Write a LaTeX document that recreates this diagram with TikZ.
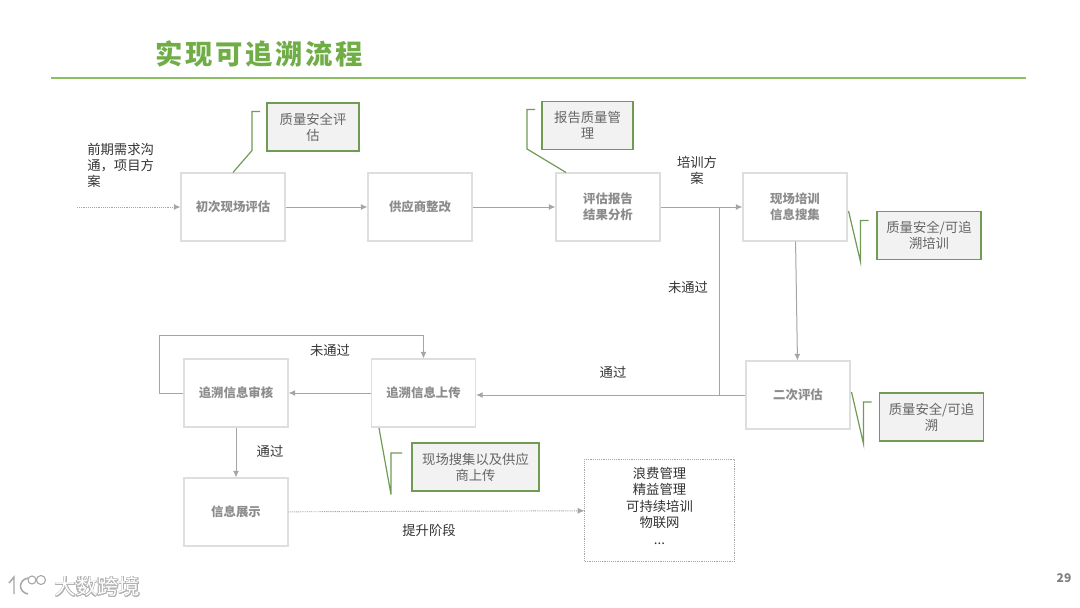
\documentclass[tikz,border=0pt]{standalone}
\usepackage{fontspec}
\usepackage{xcolor}
\usepackage{tikz}
\usepackage[copies]{contour}
\usetikzlibrary{arrows.meta,positioning}
\setmainfont{Noto Sans CJK SC}
\newfontfamily\titlefont[LetterSpace=10]{Noto Sans CJK SC}
\definecolor{titlegreen}{RGB}{112,173,71}
\definecolor{rulegreen}{RGB}{140,191,96}
\definecolor{notegreen}{RGB}{112,155,85}
\definecolor{flowgrey}{RGB}{165,165,165}
\contourlength{0.5pt}
\contournumber{16}

\begin{document}
\begin{tikzpicture}[
    x=0.75pt, y=-0.75pt,
    flowbox/.style={rectangle, draw=black!13, line width=0.8pt, minimum width=78pt, minimum height=51pt, inner sep=0pt, align=center, text=black!45, font=\fontsize{9.3}{12}\selectfont\bfseries},
    note/.style={rectangle, draw=notegreen, fill=black!5, line width=1.1pt, minimum height=36pt, inner sep=0pt, align=center, text=black!60, font=\fontsize{10}{12}\selectfont},
    label/.style={align=center, inner sep=0pt, text=black!80, font=\fontsize{10}{12}\selectfont},
    arrow/.style={-{Latex[length=5pt,width=4.5pt]}, flowgrey, line width=0.75pt},
    dotarrow/.style={-{Latex[length=5pt,width=4.5pt]}, flowgrey, dash pattern=on 0.7pt off 0.7pt, line width=0.7pt},
    leader/.style={notegreen, line width=0.9pt}
]
    \useasboundingbox (0,0) rectangle (1080,607);

    % title
    \node[inner sep=0pt, text=titlegreen, font=\fontsize{20.5}{24}\selectfont\titlefont\bfseries] (title) at (259,54) {实现可追溯流程};
    \draw[rulegreen, line width=1.5pt] (51,78) -- (1026,78);

    % flow boxes
    \node[flowbox] (initial) at (233,207) {初次现场评估};
    \node[flowbox] (rectify) at (420,207) {供应商整改};
    \node[flowbox] (report) at (608,207) {评估报告\\结果分析};
    \node[flowbox] (collect) at (795,207) {现场培训\\信息搜集};
    \node[flowbox] (second) at (798,395) {二次评估};
    \node[flowbox] (upload) at (423.5,393) {追溯信息上传};
    \node[flowbox] (audit) at (236,393) {追溯信息审核};
    \node[flowbox] (display) at (236,512) {信息展示};
    \node[rectangle, draw=flowgrey, dash pattern=on 0.7pt off 0.7pt, line width=0.7pt, minimum width=112pt, minimum height=77pt, inner sep=0pt, align=center, text=black!80, font=\fontsize{10}{12.4}\selectfont] (upgrade) at (659.5,510.5) {浪费管理\\精益管理\\可持续培训\\物联网\\...\\[-4.9pt]\mbox{}};

    % green notes
    \node[note, minimum width=69pt] (safety) at (313,127) {质量安全评\\估};
    \node[note, minimum width=68pt] (quality) at (587.5,125.5) {报告质量管\\理};
    \node[note, minimum width=78pt] (training) at (929,235.5) {质量安全/可追\\溯培训};
    \node[note, minimum width=78pt] (trace) at (931.5,417) {质量安全/可追\\溯};
    \node[note, minimum width=95pt] (source) at (475.5,467) {现场搜集以及供应\\商上传};

    % plain labels
    \node[label, align=left, anchor=north west] (needs) at (87,142.5) {前期需求沟\\通，项目方\\案};
    \node[label] (plan) at (697,170) {培训方\\案};
    \node[label] (failright) at (688,287) {未通过};
    \node[label] (failleft) at (330,350) {未通过};
    \node[label] (passmid) at (613,372) {通过};
    \node[label] (passleft) at (270,451) {通过};
    \node[label] (stage) at (429,530.5) {提升阶段};

    % connectors
    \coordinate (start) at (77,207);
    \coordinate (split) at (719,207);
    \draw[dotarrow] (start) -- (initial);
    \draw[arrow] (initial) -- (rectify);
    \draw[arrow] (rectify) -- (report);
    \draw[arrow] (report) -- (collect);
    \draw[arrow] (collect) -- (second);
    \draw[flowgrey, line width=0.75pt] (split) -- (split |- second.west);
    \draw[arrow] (second.west) -- (upload.east |- second.west);
    \draw[arrow] (upload) -- (audit);
    \draw[arrow] (audit.west) -- ++(-24,0) -- ++(0,-58) -| (upload.north);
    \draw[arrow] (audit) -- (display);
    \draw[dotarrow] (display) -- (upgrade);

    % note leaders
    \draw[leader] (initial.north) -- ++(19,-22) -- ++(0,-39) -- ++(8,0);
    \draw[leader] (report.north) ++(-42,0) -- ++(-39,-23.5) -- ++(0,-39.5) -- ++(8,0);
    \draw[leader] (collect.east) ++(1,4) -- ++(12,51) -- ++(0,-41.5) -- ++(8,0);
    \draw[leader] (second.east) ++(1,-3) -- ++(12,52) -- ++(0,-42) -- ++(8,0);
    \draw[leader] (upload.south) ++(-44.5,0.5) -- ++(12,66.5) -- ++(0,-41.5) -- ++(11,0);

    % page number and mark
    \node[inner sep=0pt, text=black!50, font=\fontsize{9}{11}\selectfont\bfseries] (page) at (1064,578) {29};
    \node[inner sep=0pt, text=white, font=\fontsize{16}{18}\selectfont] (mark) at (97.5,587) {\contour{black!30}{大数跨境}};
    \draw[black!35, line width=1.1pt] (9,583) -- (14,577) -- (14,594);
    \draw[black!35, line width=1.1pt] (28,578) .. controls (18,580) and (18,592) .. (28,594);
    \draw[black!35, line width=0.8pt] (32,580) circle (4) (41,580) circle (4.5);
\end{tikzpicture}
\end{document}
